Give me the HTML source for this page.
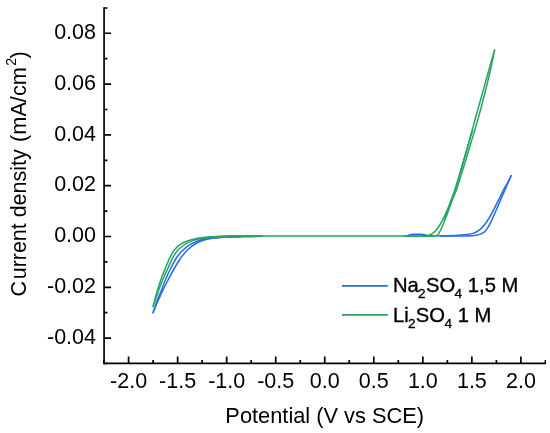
<!DOCTYPE html>
<html lang="en"><head><meta charset="utf-8"><title>Cyclic voltammetry</title>
<style>
html,body{margin:0;padding:0;background:#fff;}
body{width:550px;height:433px;overflow:hidden;}
svg{display:block;will-change:transform;}
text{font-family:"Liberation Sans",Arial,sans-serif;fill:#000;}
.tk{font-size:21.5px;}
.lg{font-size:20.2px;stroke:#000;stroke-width:0.35px;}
</style></head><body>
<svg width="550" height="433" viewBox="0 0 550 433">
<rect width="550" height="433" fill="#fff"/>
<path d="M153.1,312.6 C153.8,310.8 155.9,305.6 157.5,302.0 C159.1,298.4 160.8,294.7 162.5,291.0 C164.2,287.3 166.0,283.8 168.0,280.0 C170.0,276.2 172.4,271.6 174.5,268.0 C176.6,264.4 178.5,261.3 180.4,258.5 C182.3,255.7 184.3,253.4 186.2,251.3 C188.1,249.2 190.1,247.7 192.0,246.2 C193.9,244.7 195.9,243.5 197.8,242.5 C199.7,241.5 201.4,240.8 203.6,240.2 C205.8,239.5 208.5,239.0 210.9,238.6 C213.3,238.2 215.3,237.9 218.2,237.7 C221.0,237.4 224.4,237.2 228.0,237.1 C231.6,236.9 238.0,236.9 240.0,236.8" fill="none" stroke="#256de2" stroke-width="1.5" stroke-linejoin="round" stroke-linecap="round"/>
<path d="M153.1,312.6 C153.8,310.7 155.6,304.8 157.0,301.0 C158.4,297.2 160.0,293.8 161.5,290.0 C163.0,286.2 164.4,282.2 166.0,278.5 C167.6,274.8 169.2,271.3 170.9,268.0 C172.6,264.7 174.2,261.3 176.0,258.5 C177.8,255.7 179.6,253.5 181.8,251.3 C184.0,249.1 186.7,246.8 189.1,245.2 C191.5,243.5 194.0,242.4 196.4,241.4 C198.8,240.4 201.2,239.9 203.6,239.3 C206.0,238.8 208.5,238.4 210.9,238.1 C213.3,237.8 215.3,237.6 218.2,237.4 C221.0,237.2 224.4,237.1 228.0,237.0 C231.6,236.9 238.0,236.8 240.0,236.8" fill="none" stroke="#256de2" stroke-width="1.5" stroke-linejoin="round" stroke-linecap="round"/>
<path d="M426.0,235.8 C428.3,235.8 435.2,235.9 440.0,235.8 C444.8,235.8 450.8,235.7 455.0,235.5 C459.2,235.3 462.0,235.0 465.0,234.7 C468.0,234.3 470.7,234.2 473.1,233.4 C475.5,232.6 477.7,231.3 479.6,229.9 C481.5,228.5 482.8,227.0 484.4,225.0 C486.0,223.0 487.7,220.4 489.3,217.7 C490.9,215.0 492.5,211.9 494.1,208.8 C495.7,205.7 497.4,202.3 499.0,199.1 C500.6,195.9 502.3,192.2 503.8,189.4 C505.3,186.6 506.7,184.4 507.9,182.1 C509.1,179.8 510.6,176.8 511.1,175.7" fill="none" stroke="#256de2" stroke-width="1.5" stroke-linejoin="round" stroke-linecap="round"/>
<path d="M511.1,175.7 C510.7,176.6 509.6,179.2 508.7,181.3 C507.8,183.5 506.9,185.5 505.5,188.6 C504.1,191.7 502.2,196.1 500.6,199.9 C499.0,203.7 497.3,207.7 495.7,211.3 C494.1,215.0 492.5,218.7 490.9,221.8 C489.3,225.0 487.6,228.2 486.0,230.2 C484.4,232.2 483.1,233.0 481.2,233.9 C479.3,234.8 477.9,235.1 474.7,235.4 C471.5,235.7 467.8,235.8 462.0,235.9 C456.2,236.0 443.7,236.0 440.0,236.0" fill="none" stroke="#256de2" stroke-width="1.5" stroke-linejoin="round" stroke-linecap="round"/>
<path d="M153.1,306.4 C153.6,305.0 154.9,301.1 156.0,298.0 C157.1,294.9 158.2,291.3 159.5,288.0 C160.8,284.7 162.1,281.3 163.5,278.0 C164.9,274.7 166.4,271.5 168.0,268.0 C169.6,264.5 171.5,260.0 173.1,257.1 C174.7,254.2 175.8,252.4 177.5,250.5 C179.2,248.6 181.4,246.9 183.3,245.5 C185.2,244.1 186.9,243.1 189.1,242.1 C191.3,241.1 194.0,240.2 196.4,239.6 C198.8,238.9 201.2,238.5 203.6,238.2 C206.0,237.8 207.8,237.7 210.9,237.5 C214.0,237.3 217.2,237.2 222.0,237.1 C226.8,237.0 234.3,237.0 240.0,236.9 C245.7,236.8 252.3,236.8 256.0,236.6 C259.7,236.4 261.0,236.1 262.0,236.0" fill="none" stroke="#27a65e" stroke-width="1.5" stroke-linejoin="round" stroke-linecap="round"/>
<path d="M153.1,306.4 C153.5,304.8 154.6,300.2 155.5,297.0 C156.4,293.8 157.4,290.3 158.5,287.0 C159.6,283.7 160.6,280.2 161.8,277.0 C163.0,273.8 164.1,271.3 165.5,268.0 C166.9,264.7 168.7,260.1 170.2,257.1 C171.7,254.1 172.6,252.1 174.5,249.8 C176.4,247.5 179.4,244.9 181.8,243.3 C184.2,241.7 186.7,241.2 189.1,240.4 C191.5,239.6 194.0,239.0 196.4,238.5 C198.8,238.0 201.2,237.7 203.6,237.4 C206.0,237.1 207.8,236.9 210.9,236.7 C214.0,236.5 219.2,236.3 222.0,236.1 C224.8,235.9 225.0,235.8 228.0,235.7 C231.0,235.6 235.3,235.7 240.0,235.7 C244.7,235.7 252.3,235.8 256.0,235.8 C259.7,235.9 261.0,236.0 262.0,236.0" fill="none" stroke="#27a65e" stroke-width="1.5" stroke-linejoin="round" stroke-linecap="round"/>
<path d="M258.0,236.0 C283.0,236.0 383.0,236.0 408.0,236.0" fill="none" stroke="#27a65e" stroke-width="1.6" stroke-linejoin="round" stroke-linecap="round"/>
<path d="M405.0,236.0 C407.5,236.0 416.1,236.0 420.0,235.9 C423.9,235.8 426.5,235.7 428.6,235.3 C430.7,234.9 431.3,234.3 432.7,233.3 C434.1,232.3 435.5,230.9 436.9,229.2 C438.3,227.5 439.6,225.4 441.0,223.0 C442.4,220.6 443.8,217.6 445.2,214.6 C446.6,211.6 448.1,208.0 449.3,204.9 C450.5,201.8 451.7,198.5 452.6,196.0 C453.5,193.5 453.5,194.3 454.9,190.0 C456.2,185.7 458.9,176.7 460.8,170.0 C462.8,163.3 464.7,156.7 466.6,150.0 C468.5,143.3 470.6,136.0 472.3,130.0 C473.9,124.0 475.1,119.3 476.6,114.0 C478.1,108.7 479.6,103.5 481.1,98.0 C482.6,92.5 484.2,86.5 485.7,81.2 C487.2,75.9 488.6,71.2 490.0,66.0 C491.5,60.8 493.8,52.8 494.6,50.2" fill="none" stroke="#27a65e" stroke-width="1.5" stroke-linejoin="round" stroke-linecap="round"/>
<path d="M405.0,236.2 C408.3,236.2 419.8,236.3 425.0,236.2 C430.2,236.1 433.9,236.3 436.2,235.8 C438.5,235.3 438.0,234.6 438.9,233.3 C439.8,232.0 440.6,230.2 441.7,227.8 C442.8,225.4 444.1,222.2 445.4,218.8 C446.7,215.5 448.2,211.3 449.5,207.7 C450.8,204.1 452.3,199.9 453.4,197.0 C454.5,194.1 454.8,194.5 456.4,190.0 C457.9,185.5 460.6,176.7 462.7,170.0 C464.8,163.3 466.8,156.7 468.8,150.0 C470.9,143.3 473.0,136.0 474.8,130.0 C476.5,124.0 477.9,119.3 479.4,114.0 C480.9,108.7 482.2,103.5 483.6,98.0 C485.0,92.5 486.5,86.5 487.8,81.2 C489.1,75.9 490.2,71.2 491.3,66.0 C492.4,60.8 494.0,52.8 494.6,50.2" fill="none" stroke="#27a65e" stroke-width="1.5" stroke-linejoin="round" stroke-linecap="round"/>
<path d="M444.5,218.0 C445.3,216.0 448.1,209.4 449.5,205.8 C450.9,202.2 452.3,198.9 453.2,196.3 C454.1,193.7 453.8,194.4 455.1,190.0 C456.4,185.6 459.1,176.7 461.1,170.0 C463.1,163.3 465.0,156.7 466.9,150.0 C468.8,143.3 471.6,133.3 472.5,130.0" fill="none" stroke="#27a65e" stroke-width="1.5" stroke-linejoin="round" stroke-linecap="round"/>
<path d="M408.5,235.4 C408.8,235.2 409.6,234.7 410.5,234.5 C411.4,234.3 412.6,234.2 414.0,234.2 C415.4,234.2 417.4,234.3 419.0,234.3 C420.6,234.3 422.3,234.2 423.5,234.4 C424.7,234.6 425.6,235.1 426.0,235.2" fill="none" stroke="#256de2" stroke-width="1.5" stroke-linejoin="round" stroke-linecap="round"/>
<clipPath id="axclip"><rect x="0" y="7.25" width="546.05" height="430"/></clipPath>
<g stroke="#000" stroke-width="1.7" fill="none" stroke-linecap="butt" clip-path="url(#axclip)">
<path d="M104.07,7.01 V364.25"/>
<path d="M103.22,363.40 H546.28"/>
<path d="M104.07,363.40 v-3.40 M128.59,363.40 v-7.00 M153.11,363.40 v-3.40 M177.63,363.40 v-7.00 M202.15,363.40 v-3.40 M226.67,363.40 v-7.00 M251.19,363.40 v-3.40 M275.71,363.40 v-7.00 M300.23,363.40 v-3.40 M324.75,363.40 v-7.00 M349.27,363.40 v-3.40 M373.79,363.40 v-7.00 M398.31,363.40 v-3.40 M422.83,363.40 v-7.00 M447.35,363.40 v-3.40 M471.87,363.40 v-7.00 M496.39,363.40 v-3.40 M520.91,363.40 v-7.00 M545.43,363.40 v-3.40 M104.07,363.52 h3.40 M104.07,338.12 h7.00 M104.07,312.71 h3.40 M104.07,287.31 h7.00 M104.07,261.90 h3.40 M104.07,236.50 h7.00 M104.07,211.10 h3.40 M104.07,185.69 h7.00 M104.07,160.29 h3.40 M104.07,134.88 h7.00 M104.07,109.48 h3.40 M104.07,84.08 h7.00 M104.07,58.67 h3.40 M104.07,33.27 h7.00 M104.07,7.86 h3.40 "/>
</g>
<text class="tk" x="128.59" y="388.1" text-anchor="middle">-2.0</text>
<text class="tk" x="177.63" y="388.1" text-anchor="middle">-1.5</text>
<text class="tk" x="226.67" y="388.1" text-anchor="middle">-1.0</text>
<text class="tk" x="275.71" y="388.1" text-anchor="middle">-0.5</text>
<text class="tk" x="324.75" y="388.1" text-anchor="middle">0.0</text>
<text class="tk" x="373.79" y="388.1" text-anchor="middle">0.5</text>
<text class="tk" x="422.83" y="388.1" text-anchor="middle">1.0</text>
<text class="tk" x="471.87" y="388.1" text-anchor="middle">1.5</text>
<text class="tk" x="520.91" y="388.1" text-anchor="middle">2.0</text>
<text class="tk" x="96.0" y="39.12" text-anchor="end">0.08</text>
<text class="tk" x="96.0" y="89.86" text-anchor="end">0.06</text>
<text class="tk" x="96.0" y="140.60" text-anchor="end">0.04</text>
<text class="tk" x="96.0" y="191.34" text-anchor="end">0.02</text>
<text class="tk" x="96.0" y="242.08" text-anchor="end">0.00</text>
<text class="tk" x="96.0" y="292.82" text-anchor="end">-0.02</text>
<text class="tk" x="96.0" y="343.57" text-anchor="end">-0.04</text>
<text x="324.7" y="422.7" font-size="21.8" text-anchor="middle">Potential (V vs SCE)</text>
<text class="tk" transform="translate(25.7,296.5) rotate(-90)" letter-spacing="-0.025">C<tspan dx="1.7">urrent density</tspan></text>
<text transform="translate(25.7,141.9) rotate(-90)" font-size="21.7">(mA/cm</text>
<text transform="translate(16.4,65.7) rotate(-90)" font-size="14">2</text>
<text transform="translate(25.7,58.4) rotate(-90)" font-size="21.7">)</text>
<path d="M342.0,285.9 H387.7" stroke="#256de2" stroke-width="1.7" fill="none"/>
<path d="M342.0,314.9 H387.7" stroke="#27a65e" stroke-width="1.7" fill="none"/>
<text class="lg" x="393.0" y="291.9">Na<tspan dx="-0.7" dy="6.0" font-size="13.6">2</tspan><tspan dx="0.25" dy="-6.0">SO</tspan><tspan dx="-0.5" dy="6.0" font-size="13.6">4</tspan><tspan dx="0.05" dy="-6.0"> 1,5 M</tspan></text>
<text class="lg" x="393.0" y="321.6">Li<tspan dx="-0.7" dy="6.0" font-size="13.6">2</tspan><tspan dx="0.25" dy="-6.0">SO</tspan><tspan dx="-0.5" dy="6.0" font-size="13.6">4</tspan><tspan dx="0.05" dy="-6.0"> 1 M</tspan></text>
</svg>
</body></html>
